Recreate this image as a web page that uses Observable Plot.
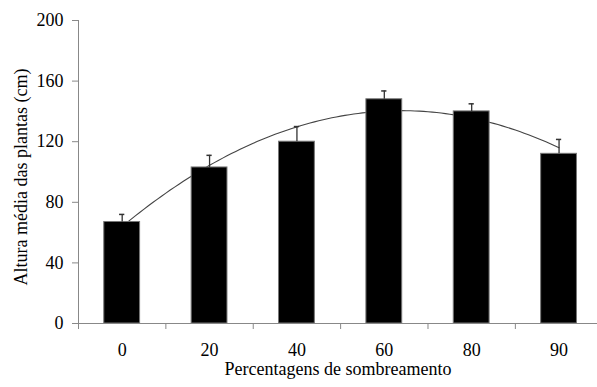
<!DOCTYPE html>
<html>
<head>
<meta charset="utf-8">
<script src="https://cdn.jsdelivr.net/npm/d3@7"></script>
<script src="https://cdn.jsdelivr.net/npm/@observablehq/plot@0.6"></script>
<style>
  html, body { margin: 0; padding: 0; background: #fff; }
  #chart svg, #chart svg text { font-family: "Liberation Serif", "Times New Roman", serif !important; }
</style>
</head>
<body>
<div id="chart"></div>
<script>
const categories = ["0", "20", "40", "60", "80", "90"];
const heights = [67, 103, 120, 148, 140, 112];
const errors = [5, 8, 10, 5.5, 5, 9.5];
const yTicks = [0, 40, 80, 120, 160, 200];
const yLabel = "Altura média das plantas (cm)";
const xLabel = "Percentagens de sombreamento";

const data = categories.map((c, k) => ({ i: k + 1, cat: c, value: heights[k], err: errors[k] }));

// Quadratic least-squares trendline of the bar heights over category index
function quadFit(xs, ys) {
  const n = xs.length;
  let S = [0, 0, 0, 0, 0], T = [0, 0, 0];
  for (let k = 0; k < n; k++) {
    const x = xs[k], y = ys[k];
    for (let p = 0; p < 5; p++) S[p] += Math.pow(x, p);
    for (let p = 0; p < 3; p++) T[p] += Math.pow(x, p) * y;
  }
  const A = [[S[0], S[1], S[2], T[0]], [S[1], S[2], S[3], T[1]], [S[2], S[3], S[4], T[2]]];
  for (let c = 0; c < 3; c++) {
    for (let r = c + 1; r < 3; r++) {
      const f = A[r][c] / A[c][c];
      for (let j = c; j < 4; j++) A[r][j] -= f * A[c][j];
    }
  }
  const b = [0, 0, 0];
  for (let r = 2; r >= 0; r--) {
    let s = A[r][3];
    for (let j = r + 1; j < 3; j++) s -= A[r][j] * b[j];
    b[r] = s / A[r][r];
  }
  return x => b[0] + b[1] * x + b[2] * x * x;
}
const fit = quadFit(data.map(d => d.i), heights);
const curve = d3.range(1, 6.0001, 0.05).map(x => ({ x, y: fit(x) }));

const hw = 0.205;
const cap = 0.03;
const boundaries = [0.5, 1.5, 2.5, 3.5, 4.5, 5.5];
const fs = 18;

const plot = Plot.plot({
  width: 597,
  height: 387,
  marginLeft: 78,
  marginRight: 0,
  marginTop: 20,
  marginBottom: 64,
  style: { fontFamily: "'Liberation Serif', 'Times New Roman', serif", fontSize: fs + "px", background: "#fff" },
  x: { type: "linear", domain: [0.5, 6.44], range: [78, 597] },
  y: { domain: [0, 200] },
  marks: [
    Plot.line(curve, { x: "x", y: "y", stroke: "#444", strokeWidth: 1.1, curve: "linear" }),
    Plot.rectY(data, { x1: d => d.i - hw, x2: d => d.i + hw, y: "value", fill: "#000", stroke: "#777", strokeWidth: 1 }),
    Plot.ruleX(data, { x: "i", y1: "value", y2: d => d.value + d.err, stroke: "#333", strokeWidth: 1.3 }),
    Plot.ruleY(data, { x1: d => d.i - cap, x2: d => d.i + cap, y: d => d.value + d.err, stroke: "#333", strokeWidth: 1.5 }),
    Plot.ruleX([0.5], { y1: 0, y2: 200, stroke: "#888" }),
    Plot.ruleY([0], { stroke: "#888" }),
    Plot.axisY({ ticks: yTicks, tickSize: 6, tickPadding: 9, stroke: "#888", fill: "#000", label: null, fontSize: fs }),
    Plot.axisX({ ticks: boundaries, tickSize: 6, tickFormat: () => "", stroke: "#888", label: null }),
    Plot.axisX({ ticks: data.map(d => d.i), tickSize: 0, tickPadding: 20, tickFormat: i => categories[i - 1], fill: "#000", label: null, fontSize: fs }),
    Plot.text([yLabel], { frameAnchor: "left", textAnchor: "middle", dx: -57.5, dy: 5, rotate: -90, fontSize: fs, fill: "#000" }),
    Plot.text([xLabel], { frameAnchor: "bottom", dy: 51, fontSize: fs, fill: "#000" })
  ]
});
document.getElementById("chart").appendChild(plot);
</script>
</body>
</html>
